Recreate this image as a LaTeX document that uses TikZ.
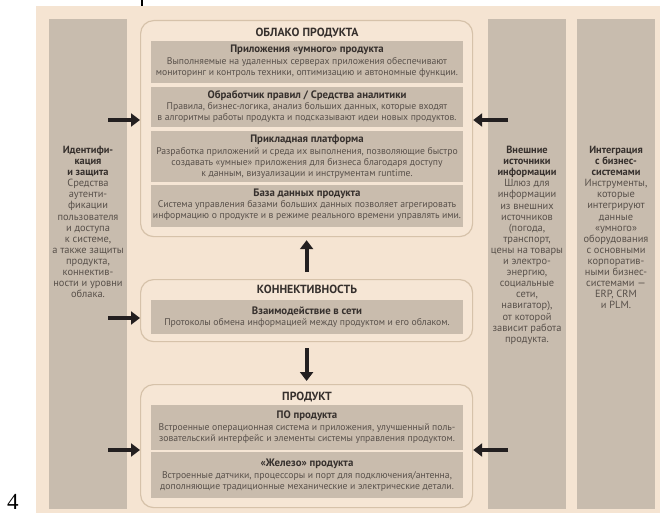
\documentclass[tikz,border=0pt]{standalone}
\usepackage{fontspec}
\setmainfont{PT Sans}
\newfontfamily\numfont{Liberation Serif}
\usetikzlibrary{arrows.meta}
\definecolor{bg}{HTML}{F5E4D2}
\definecolor{colc}{HTML}{C8BCAE}
\definecolor{blkc}{HTML}{C9BCAD}
\definecolor{bord}{HTML}{D6C2AA}
\definecolor{boxfill}{HTML}{F6E6D5}
\definecolor{ttl}{HTML}{36302D}
\definecolor{bdy}{HTML}{58504A}
\definecolor{arrc}{HTML}{231F20}
\begin{document}
\begin{tikzpicture}[x=1pt,y=-1pt,
  colbox/.style={fill=colc,draw=none,anchor=north west,minimum width=78pt,minimum height=490pt,inner sep=0},
  bigbox/.style={fill=boxfill,draw=bord,line width=1.2pt,rounded corners=13pt,anchor=north west,minimum width=332pt,inner sep=0},
  blk/.style={fill=blkc,draw=none,anchor=north west,minimum width=312pt,inner sep=0},
  maintitle/.style={font=\bfseries\fontsize{11.8}{13}\selectfont,text=ttl,inner sep=0},
  btitle/.style={font=\bfseries\fontsize{10.8}{11}\selectfont,text=ttl,inner sep=0},
  body/.style={font=\fontsize{9.7}{11}\selectfont,text=bdy,align=center,inner sep=0},
  coltext/.style={font=\fontsize{10.4}{11.1}\selectfont,text=bdy,align=center,inner sep=0,anchor=north},
  arr/.style={draw=arrc,line width=4.2pt,-{Triangle[length=9pt,width=13pt]}}
]
\useasboundingbox (0,0) rectangle (660,513);
\fill[bg] (36,6) rectangle (660,513);
\draw[line width=1.3pt,black] (142,0) -- (142,6);
\node[font=\numfont\fontsize{23}{23}\selectfont,anchor=base west,inner sep=0] (pnum) at (7,509.5) {4};

% side columns
\node[colbox] (lcol) at (49,19) {};
\node[colbox] (rcol) at (488,19) {};
\node[colbox] (icol) at (577,19) {};

\node[coltext] (ltext) at (88,146) {\textcolor{ttl}{\bfseries Идентифи-}\\\textcolor{ttl}{\bfseries кация}\\\textcolor{ttl}{\bfseries и защита}\\Средства\\аутенти-\\фикации\\пользователя\\и доступа\\к системе,\\а также защиты\\продукта,\\коннектив-\\ности и уровни\\облака.};
\node[coltext] (rtext) at (527,146) {\textcolor{ttl}{\bfseries Внешние}\\\textcolor{ttl}{\bfseries источники}\\\textcolor{ttl}{\bfseries информации}\\Шлюз для\\информации\\из внешних\\источников\\(погода,\\транспорт,\\цены на товары\\и электро-\\энергию,\\социальные\\сети,\\навигатор),\\от которой\\зависит работа\\продукта.};
\node[coltext] (itext) at (616,146) {\textcolor{ttl}{\bfseries Интеграция}\\\textcolor{ttl}{\bfseries с бизнес-}\\\textcolor{ttl}{\bfseries системами}\\Инструменты,\\которые\\интегрируют\\данные\\«умного»\\оборудования\\с основными\\корпоратив-\\ными бизнес-\\системами —\\ERP, CRM\\и PLM.};

% cloud
\node[bigbox,minimum height=216pt] (cloud) at (140,20) {};
\node[maintitle] (cloudt) at (307,33) {ОБЛАКО ПРОДУКТА};
\node[blk,minimum height=42pt] (b1) at (151,41) {};
\node[btitle] (b1t) at (307,50) {Приложения «умного» продукта};
\node[body] (b1b) at (307,67.5) {Выполняемые на удаленных серверах приложения обеспечивают\\мониторинг и контроль техники, оптимизацию и автономные функции.};
\node[blk,minimum height=40pt] (b2) at (151,87) {};
\node[btitle] (b2t) at (307,96) {Обработчик правил / Средства аналитики};
\node[body] (b2b) at (307,112.5) {Правила, бизнес-логика, анализ больших данных, которые входят\\в алгоритмы работы продукта и подсказывают идеи новых продуктов.};
\node[blk,minimum height=51pt] (b3) at (151,131) {};
\node[btitle] (b3t) at (307,140) {Прикладная платформа};
\node[body] (b3b) at (307,162.5) {Разработка приложений и среда их выполнения, позволяющие быстро\\создавать «умные» приложения для бизнеса благодаря доступу\\к данным, визуализации и инструментам runtime.};
\node[blk,minimum height=42pt] (b4) at (151,185) {};
\node[btitle] (b4t) at (307,194) {База данных продукта};
\node[body] (b4b) at (307,210.5) {Система управления базами больших данных позволяет агрегировать\\информацию о продукте и в режиме реального времени управлять ими.};

% connectivity
\node[bigbox,minimum height=62pt] (conn) at (140,279) {};
\node[maintitle] (connt) at (307,289) {КОННЕКТИВНОСТЬ};
\node[blk,minimum height=34pt] (c1) at (151,300) {};
\node[btitle] (c1t) at (307,311) {Взаимодействие в сети};
\node[body] (c1b) at (307,322.5) {Протоколы обмена информацией между продуктом и его облаком.};

% product
\node[bigbox,minimum height=123pt] (prod) at (140,384) {};
\node[maintitle] (prodt) at (307,397) {ПРОДУКТ};
\node[blk,minimum height=45pt] (p1) at (151,405) {};
\node[btitle] (p1t) at (307,416) {ПО продукта};
\node[body] (p1b) at (307,433.5) {Встроенные операционная система и приложения, улучшенный поль-\\зовательский интерфейс и элементы системы управления продуктом.};
\node[blk,minimum height=46pt] (p2) at (151,452) {};
\node[btitle] (p2t) at (307,464) {«Железо» продукта};
\node[body] (p2b) at (307,481.5) {Встроенные датчики, процессоры и порт для подключения/антенна,\\дополняющие традиционные механические и электрические детали.};

% arrows
\draw[arr,shorten <=7pt,shorten >=3pt] (conn.north) -- (cloud.south);
\draw[arr,shorten <=6pt,shorten >=3pt] (conn.south) -- (prod.north);
\coordinate (la1) at (108,120);
\coordinate (la2) at (108,318);
\coordinate (la3) at (108,450);
\coordinate (ra1) at (508,120);
\coordinate (ra3) at (508,450);
\draw[arr] (la1) -- (la1 -| cloud.west);
\draw[arr] (la2) -- (la2 -| conn.west);
\draw[arr] (la3) -- (la3 -| prod.west);
\draw[arr] (ra1) -- (ra1 -| cloud.east);
\draw[arr] (ra3) -- (ra3 -| prod.east);
\end{tikzpicture}
\end{document}
